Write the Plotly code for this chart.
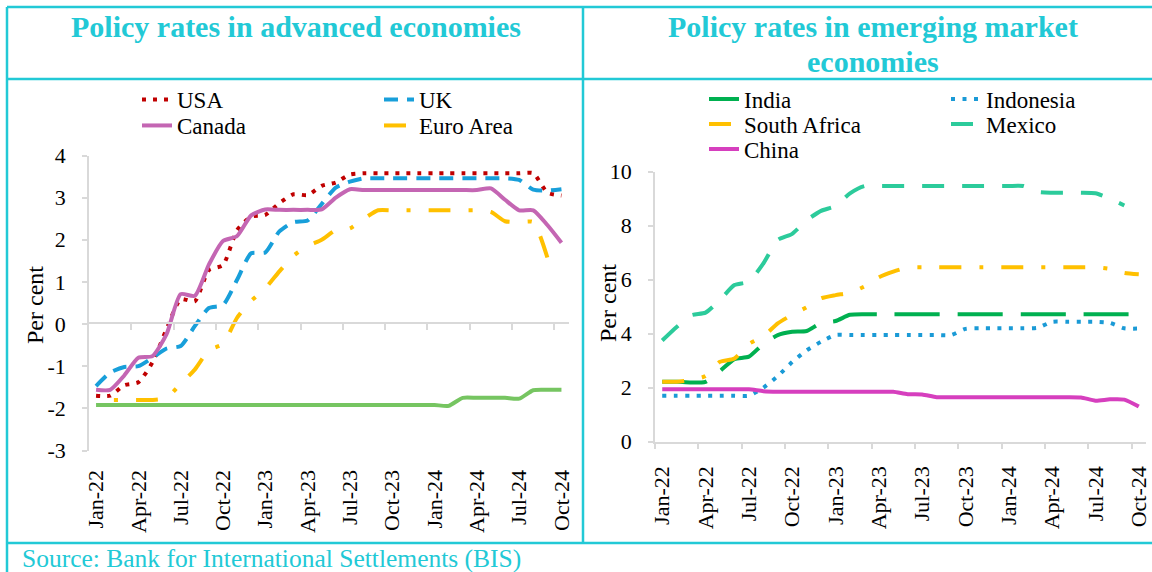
import plotly.graph_objects as go

W, H = 1152, 572

months = ["Jan-22", "Feb-22", "Mar-22", "Apr-22", "May-22", "Jun-22", "Jul-22", "Aug-22",
          "Sep-22", "Oct-22", "Nov-22", "Dec-22", "Jan-23", "Feb-23", "Mar-23", "Apr-23",
          "May-23", "Jun-23", "Jul-23", "Aug-23", "Sep-23", "Oct-23", "Nov-23", "Dec-23",
          "Jan-24", "Feb-24", "Mar-24", "Apr-24", "May-24", "Jun-24", "Jul-24", "Aug-24",
          "Sep-24", "Oct-24"]
tick_labels = ["Jan-22", "Apr-22", "Jul-22", "Oct-22", "Jan-23", "Apr-23",
               "Jul-23", "Oct-23", "Jan-24", "Apr-24", "Jul-24", "Oct-24"]

# Advanced economies (per cent)
usa = [-1.70, -1.70, -1.45, -1.38, -0.91, -0.12, 0.59, 0.54, 1.28, 1.40, 2.23, 2.55,
       2.59, 2.87, 3.08, 3.06, 3.28, 3.36, 3.55, 3.58, 3.58, 3.58, 3.58, 3.58,
       3.58, 3.58, 3.58, 3.58, 3.58, 3.58, 3.58, 3.58, 3.12, 3.05]
uk = [-1.47, -1.15, -1.02, -1.00, -0.80, -0.58, -0.52, -0.05, 0.38, 0.45, 1.05, 1.68,
      1.70, 2.20, 2.42, 2.46, 2.85, 3.24, 3.38, 3.46, 3.46, 3.46, 3.46, 3.46,
      3.46, 3.46, 3.46, 3.46, 3.46, 3.46, 3.42, 3.19, 3.17, 3.20]
canada = [-1.56, -1.56, -1.22, -0.80, -0.76, -0.24, 0.71, 0.67, 1.41, 1.97, 2.09, 2.58,
          2.72, 2.71, 2.71, 2.71, 2.72, 3.00, 3.20, 3.18, 3.18, 3.18, 3.18, 3.18,
          3.18, 3.18, 3.18, 3.18, 3.22, 2.95, 2.70, 2.70, 2.35, 1.93]
euro = [-1.80, -1.80, -1.80, -1.80, -1.80, -1.75, -1.42, -1.08, -0.62, -0.47, 0.15, 0.55,
        0.85, 1.25, 1.62, 1.85, 2.00, 2.23, 2.27, 2.50, 2.70, 2.70, 2.70, 2.70,
        2.70, 2.70, 2.70, 2.70, 2.66, 2.44, 2.42, 2.42, 1.58, None]
japan = [-1.92, -1.92, -1.92, -1.92, -1.92, -1.92, -1.92, -1.92, -1.92, -1.92, -1.92, -1.92,
         -1.92, -1.92, -1.92, -1.92, -1.92, -1.92, -1.92, -1.92, -1.92, -1.92, -1.92, -1.92,
         -1.92, -1.94, -1.75, -1.75, -1.75, -1.75, -1.77, -1.57, -1.56, -1.56]

# Emerging market economies (per cent)
india = [2.22, 2.22, 2.19, 2.22, 2.62, 3.06, 3.15, 3.62, 3.95, 4.07, 4.10, 4.40,
         4.47, 4.70, 4.72, 4.72, 4.72, 4.72, 4.72, 4.72, 4.72, 4.72, 4.72, 4.72,
         4.72, 4.72, 4.72, 4.72, 4.72, 4.72, 4.72, 4.72, 4.72, 4.72]
indonesia = [1.70, 1.70, 1.70, 1.70, 1.70, 1.70, 1.70, 2.00, 2.43, 2.95, 3.38, 3.70,
             3.95, 3.95, 3.95, 3.95, 3.95, 3.95, 3.95, 3.95, 3.95, 4.18, 4.20, 4.20,
             4.20, 4.20, 4.22, 4.44, 4.44, 4.44, 4.44, 4.40, 4.20, 4.19]
south_africa = [2.22, 2.22, 2.28, 2.43, 2.96, 3.08, 3.62, 3.90, 4.38, 4.70, 4.98, 5.31,
                5.43, 5.52, 5.75, 6.09, 6.30, 6.45, 6.46, 6.46, 6.46, 6.46, 6.46, 6.46,
                6.46, 6.46, 6.46, 6.46, 6.46, 6.46, 6.46, 6.40, 6.25, 6.20]
mexico = [3.75, 4.25, 4.68, 4.78, 5.25, 5.80, 5.93, 6.60, 7.47, 7.70, 8.20, 8.55,
          8.73, 9.20, 9.47, 9.47, 9.47, 9.47, 9.47, 9.47, 9.47, 9.47, 9.47, 9.47,
          9.47, 9.47, 9.25, 9.22, 9.22, 9.22, 9.20, 9.00, 8.75, None]
china = [1.94, 1.94, 1.94, 1.94, 1.94, 1.94, 1.94, 1.87, 1.85, 1.85, 1.85, 1.85,
         1.85, 1.85, 1.85, 1.85, 1.85, 1.76, 1.75, 1.65, 1.65, 1.65, 1.65, 1.65,
         1.65, 1.65, 1.65, 1.65, 1.65, 1.64, 1.52, 1.57, 1.56, 1.30]

x = list(range(len(months)))
label_pos = [months.index(m) for m in tick_labels]
boundaries = [p - 0.5 for p in label_pos]

FONT = "Liberation Serif"
CYAN = "#22c9d6"
AXC = "#d9d9d9"


def px(v):
    return v / W


def py(v):
    return 1 - v / H


fig = go.Figure()


def add(y, name, color, dash, width, xa, ya, legend, rank, show=True, from_end=False):
    xs, ys = (x[::-1], y[::-1]) if from_end else (x, y)
    fig.add_trace(go.Scatter(
        x=xs, y=ys, name=name, mode="lines",
        line=dict(color=color, dash=dash, width=width, shape="spline", smoothing=0.6),
        xaxis=xa, yaxis=ya, legend=legend, legendrank=rank, showlegend=show, connectgaps=False,
        hoverinfo="skip"))


# left panel
add(japan, "Japan", "#76c561", "solid", 4, "x3", "y", "legend", 5, show=False)
add(euro, "Euro Area", "#ffc000", "22px,18px,4px,18px", 4, "x", "y", "legend2", 2, from_end=True)
add(usa, "USA", "#c00000", "4px,7px", 4, "x", "y", "legend", 1)
add(uk, "UK", "#189fda", "14px,9px", 4, "x", "y", "legend", 2)
add(canada, "Canada", "#c466b3", "solid", 4, "x", "y", "legend2", 1)
# right panel
add(india, "India", "#00b050", "45px,18px", 4, "x2", "y2", "legend3", 1)
add(indonesia, "Indonesia", "#1a9ad6", "4px,7.5px", 4, "x2", "y2", "legend3", 2)
add(mexico, "Mexico", "#2ccb9b", "22px,18px", 4, "x2", "y2", "legend4", 2)
add(south_africa, "South Africa", "#ffc000", "22px,18px,4px,18px", 4, "x2", "y2", "legend4", 1)
add(china, "China", "#d63fbe", "solid", 4, "x2", "y2", "legend5", 1)

tickfont = dict(family=FONT, size=22, color="black")

left_dom_x = [px(89.0), px(568.5)]
left_dom_y = [py(450.5), py(155.5)]
right_dom_x = [px(655.0), px(1146.0)]
right_dom_y = [py(441.7), py(171.7)]
zero_pos = py(323.3)

xcommon = dict(range=[-0.5, 33.5], showgrid=False, zeroline=False, automargin=False)

fig.update_layout(
    width=W, height=H, margin=dict(l=0, r=0, t=0, b=0, pad=0, autoexpand=False), autosize=False,
    paper_bgcolor="white", plot_bgcolor="rgba(0,0,0,0)",
    font=dict(family=FONT, size=22, color="black"),
    xaxis=dict(domain=left_dom_x, anchor="y", tickvals=label_pos, ticktext=tick_labels,
               tickangle=-90, ticks="", showline=False, tickfont=tickfont, ticklabelstandoff=14, **xcommon),
    xaxis3=dict(overlaying="x", anchor="free", position=zero_pos, showticklabels=False, ticks="",
                showline=True, linecolor=AXC, linewidth=1.5, tickvals=label_pos,
                minor=dict(tickvals=boundaries[1:], ticks="outside", ticklen=6, tickcolor=AXC, tickwidth=1.5),
                **xcommon),
    yaxis=dict(domain=left_dom_y, anchor="x", range=[-3, 4], tickvals=[-3, -2, -1, 0, 1, 2, 3, 4],
               ticktext=["-3", "-2", "-1", "0", "1", "2", "3", "4"], showline=True, linecolor=AXC,
               linewidth=1.5, ticks="outside", ticklen=5, tickcolor=AXC, tickwidth=1.5,
               showgrid=False, zeroline=False, tickfont=tickfont, ticklabelstandoff=12, automargin=False),
    xaxis2=dict(domain=right_dom_x, anchor="y2", tickvals=label_pos, ticktext=tick_labels,
                tickangle=-90, ticks="", showline=True, linecolor=AXC, linewidth=1.5,
                minor=dict(tickvals=boundaries, ticks="outside", ticklen=6, tickcolor=AXC, tickwidth=1.5),
                tickfont=tickfont, ticklabelstandoff=14, **xcommon),
    yaxis2=dict(domain=right_dom_y, anchor="x2", range=[0, 10], tickvals=[0, 2, 4, 6, 8, 10],
                showline=True, linecolor=AXC, linewidth=1.5, ticks="outside", ticklen=5,
                tickcolor=AXC, tickwidth=1.5, showgrid=False, zeroline=False, tickfont=tickfont,
                ticklabelstandoff=12, automargin=False),
)

legend_common = dict(orientation="h", xanchor="left", yanchor="middle", bgcolor="rgba(0,0,0,0)",
                     font=dict(family=FONT, size=23, color="black"), entrywidth=197,
                     itemwidth=30, tracegroupgap=0)
fig.update_layout(
    legend=dict(x=px(137), y=py(99.5), **legend_common),
    legend2=dict(x=px(137), y=py(125.5), **legend_common),
    legend3=dict(x=px(704), y=py(99), **legend_common),
    legend4=dict(x=px(704), y=py(124), **legend_common),
    legend5=dict(x=px(704), y=py(149), **legend_common),
)

annotations = [
    dict(text="<b>Policy rates in advanced economies</b>", x=px(296), y=py(27)),
    dict(text="<b>Policy rates in emerging market</b>", x=px(873), y=py(27)),
    dict(text="<b>economies</b>", x=px(873), y=py(62)),
]
for a in annotations:
    fig.add_annotation(xref="paper", yref="paper", showarrow=False, xanchor="center", yanchor="middle",
                       font=dict(family=FONT, size=30, color=CYAN), **a)

fig.add_annotation(text="Source: Bank for International Settlements (BIS)", xref="paper", yref="paper",
                   x=px(20), y=py(558), xanchor="left", yanchor="middle", showarrow=False,
                   font=dict(family=FONT, size=25.5, color=CYAN))
for xx, yy in [(35, 305), (608, 303)]:
    fig.add_annotation(text="Per cent", xref="paper", yref="paper", x=px(xx), y=py(yy),
                       xanchor="center", yanchor="middle", textangle=-90, showarrow=False,
                       font=dict(family=FONT, size=24, color="black"))

# panel frame
frame = [
    (7, 7, W, 7), (7, 79, W, 79), (7, 543, W, 543),
    (7, 7, 7, H), (583, 7, 583, 543),
]
for x0, y0, x1, y1 in frame:
    fig.add_shape(type="line", xref="paper", yref="paper", x0=px(x0), y0=py(y0), x1=px(x1), y1=py(y1),
                  line=dict(color=CYAN, width=2.5))

fig.write_html(
    "out.html",
    config={"displayModeBar": False, "responsive": False},
    post_script=("document.documentElement.style.margin='0';document.body.style.margin='0';"
                 "document.body.style.overflow='hidden';document.documentElement.style.overflow='hidden';"),
)
